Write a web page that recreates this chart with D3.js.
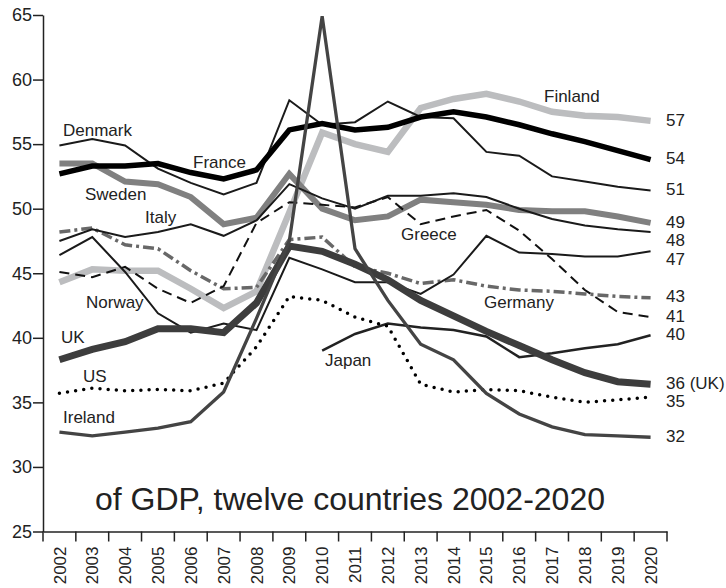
<!DOCTYPE html>
<html>
<head>
<meta charset="utf-8">
<script src="https://d3js.org/d3.v7.min.js"></script>
<style>
 body { margin: 0; background: #fff; }
 svg { display: block; font-family: "Liberation Sans", Arial, Helvetica, sans-serif; }
</style>
</head>
<body>
<svg width="726" height="588"></svg>
<script>
// government spending, % of GDP
const years = ["2002","2003","2004","2005","2006","2007","2008","2009","2010","2011",
               "2012","2013","2014","2015","2016","2017","2018","2019","2020"];

const finland = [44.3, 45.3, 45.2, 45.2, 43.8, 42.3, 43.6, 49.7, 55.9, 55.0, 54.4, 57.8, 58.5, 58.9, 58.3, 57.5, 57.2, 57.1, 56.8];
const france  = [52.7, 53.3, 53.3, 53.5, 52.8, 52.3, 53.0, 56.1, 56.6, 56.1, 56.3, 57.1, 57.5, 57.1, 56.5, 55.8, 55.2, 54.5, 53.8];
const denmark = [54.9, 55.4, 54.9, 53.1, 52.0, 51.1, 52.0, 58.4, 56.5, 56.7, 58.3, 57.1, 57.0, 54.4, 54.1, 52.5, 52.1, 51.7, 51.4];
const sweden  = [53.5, 53.5, 52.1, 51.9, 50.9, 48.8, 49.3, 52.7, 50.0, 49.1, 49.4, 50.7, 50.5, 50.3, 49.9, 49.8, 49.8, 49.4, 48.9];
const italy   = [47.5, 48.4, 47.8, 48.2, 48.8, 47.9, 49.1, 51.9, 50.8, 50.0, 51.0, 51.0, 51.2, 50.9, 50.0, 49.2, 48.7, 48.4, 48.2];
const norway  = [46.4, 47.8, 45.1, 41.9, 40.4, 41.1, 40.6, 46.2, 45.3, 44.3, 44.3, 43.4, 44.9, 47.9, 46.6, 46.5, 46.3, 46.3, 46.7];
const greece  = [45.1, 44.7, 45.5, 43.8, 42.7, 44.0, 48.9, 50.5, 50.3, 50.1, 50.9, 48.8, 49.4, 49.9, 48.3, 46.1, 43.7, 42.0, 41.6];
const germany = [48.2, 48.5, 47.2, 46.9, 45.2, 43.8, 43.9, 47.6, 47.8, 45.5, 45.0, 44.2, 44.5, 44.0, 43.7, 43.6, 43.4, 43.2, 43.1];
const japan   = [null, null, null, null, null, null, null, null, 39.0, 40.3, 41.1, 40.8, 40.6, 40.1, 38.5, 38.8, 39.2, 39.5, 40.2];
const us      = [35.7, 36.1, 35.9, 36.0, 35.9, 36.5, 39.3, 43.2, 42.9, 41.6, 40.9, 36.4, 35.8, 36.0, 35.9, 35.4, 35.0, 35.2, 35.4];
const uk      = [38.3, 39.1, 39.7, 40.7, 40.7, 40.4, 42.7, 47.1, 46.7, 45.7, 44.5, 42.9, 41.7, 40.5, 39.4, 38.3, 37.3, 36.6, 36.4];
const ireland = [32.7, 32.4, 32.7, 33.0, 33.5, 35.8, 41.5, 47.5, 64.9, 46.9, 42.9, 39.5, 38.3, 35.7, 34.1, 33.1, 32.5, 32.4, 32.3];

const yTicks = [25, 30, 35, 40, 45, 50, 55, 60, 65];
const title = "of GDP, twelve countries 2002-2020";

// drawing order: first is at the back
const series = [
  {values: finland, end: "57",      color: "#bcbdbf", width: 6.5},
  {values: sweden,  end: "49",      color: "#808080", width: 6},
  {values: germany, end: "43",      color: "#686868", width: 3.5, dash: "11 4 3 4"},
  {values: greece,  end: "41",      color: "#111",    width: 2,   dash: "10 6"},
  {values: italy,   end: "48",      color: "#1a1a1a", width: 2},
  {values: denmark, end: "51",      color: "#1a1a1a", width: 2},
  {values: norway,  end: "47",      color: "#1a1a1a", width: 2},
  {values: japan,   end: "40",      color: "#222",    width: 2.5},
  {values: us,      end: "35",      color: "#000",    width: 3.5, dash: "0 8.2", cap: "round"},
  {values: france,  end: "54",      color: "#000",    width: 5.5},
  {values: uk,      end: "36 (UK)", color: "#3d3d3d", width: 7},
  {values: ireland, end: "32",      color: "#444",    width: 3.3}
];

// country names written inside the plot
const names = [
  {text: "Denmark", x: 63,  y: 136},
  {text: "France",  x: 193, y: 168},
  {text: "Sweden",  x: 85,  y: 200},
  {text: "Italy",   x: 145, y: 223},
  {text: "Norway",  x: 86,  y: 308},
  {text: "UK",      x: 61,  y: 343},
  {text: "US",      x: 83,  y: 382},
  {text: "Ireland", x: 63,  y: 423},
  {text: "Finland", x: 544, y: 102},
  {text: "Greece",  x: 401, y: 240},
  {text: "Germany", x: 484, y: 308},
  {text: "Japan",   x: 325, y: 366}
];

const svg = d3.select("svg");
const margin = {top: 15, left: 43, right: 59, bottom: 56.5};
const width = 726, height = 588;

const x = d3.scaleBand().domain(years).range([margin.left, width - margin.right]).padding(0);
const y = d3.scaleLinear().domain([25, 65]).range([height - margin.bottom, margin.top]);
const cx = d => x(d) + x.bandwidth() / 2;

// axes
const yAxis = svg.append("g")
   .attr("transform", `translate(${margin.left},0)`)
   .call(d3.axisLeft(y).tickValues(yTicks).tickSize(10).tickPadding(1).tickSizeOuter(0));

const xAxis = svg.append("g")
   .attr("transform", `translate(0,${height - margin.bottom})`)
   .call(d3.axisBottom(x).tickSize(0).tickSizeOuter(0));

// band-edge ticks on the x axis
const edges = years.map(d => x(d)).concat([x(years[years.length - 1]) + x.bandwidth()]);
xAxis.selectAll(".edge")
   .data(edges)
   .join("line")
   .attr("class", "edge")
   .attr("x1", d => d).attr("x2", d => d)
   .attr("y1", 0).attr("y2", 10);

[xAxis, yAxis].forEach(a => {
  a.selectAll(".domain, line").attr("stroke", "#222").attr("stroke-width", 1.5);
  a.selectAll("text").attr("fill", "#222").attr("font-size", 18)
   .attr("font-family", "'Liberation Sans', Arial, sans-serif");
});

xAxis.selectAll(".tick text")
   .attr("transform", "rotate(-90)")
   .attr("text-anchor", "end")
   .attr("x", -15)
   .attr("y", 0)
   .attr("dy", "0.36em")
   .attr("font-size", 17);

// title inside the plot area
svg.append("text")
   .attr("x", 350)
   .attr("y", 510)
   .attr("text-anchor", "middle")
   .attr("font-size", 32)
   .attr("fill", "#222")
   .text(title);

// lines
const line = d3.line()
   .defined(d => d.v != null)
   .x(d => cx(d.year))
   .y(d => y(d.v));

svg.append("g").selectAll("path")
   .data(series)
   .join("path")
   .attr("d", s => line(s.values.map((v, i) => ({year: years[i], v}))))
   .attr("fill", "none")
   .attr("stroke", s => s.color)
   .attr("stroke-width", s => s.width)
   .attr("stroke-dasharray", s => s.dash || null)
   .attr("stroke-linecap", s => s.cap || "butt")
   .attr("stroke-linejoin", "miter");

// country labels
svg.append("g").selectAll("text")
   .data(names)
   .join("text")
   .attr("x", d => d.x)
   .attr("y", d => d.y)
   .attr("font-size", 17)
   .attr("fill", "#222")
   .text(d => d.text);

// values at the right end, pushed apart so they do not overlap
const ends = series.map(s => ({text: s.end, y: y(s.values[s.values.length - 1])}))
   .sort((a, b) => a.y - b.y);
for (let i = 1; i < ends.length; i++) {
  if (ends[i].y - ends[i - 1].y < 18.5) ends[i].y = ends[i - 1].y + 18.5;
}
svg.append("g").selectAll("text")
   .data(ends)
   .join("text")
   .attr("x", 666)
   .attr("y", d => d.y - 1.5)
   .attr("dy", "0.36em")
   .attr("font-size", 17)
   .attr("fill", "#222")
   .text(d => d.text);
</script>
</body>
</html>
